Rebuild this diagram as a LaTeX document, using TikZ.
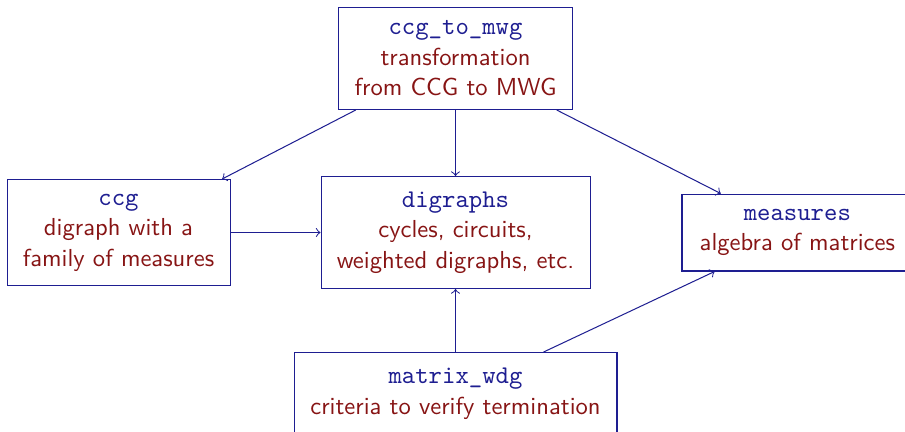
\documentclass[tikz,border=0pt]{standalone}
\usepackage{xcolor}
\usetikzlibrary{positioning}
\usetikzlibrary{arrows}
\definecolor{modblue}{RGB}{30,30,145}
\definecolor{descred}{RGB}{135,20,20}
\newcommand{\modtitle}[1]{{\fontsize{10}{12}\selectfont\ttfamily\color{modblue}#1}}

\begin{document}
\begin{tikzpicture}[->,>=to,auto,node distance=1cm,
                    module/.style={rectangle,draw=modblue,align=center,
                                   font=\sffamily\fontsize{9.65}{12}\selectfont,text=descred}]
      \useasboundingbox (-6.279,-2.736) rectangle (6.196,3.205);

      \node[module, minimum width=3.708cm, minimum height=1.544cm] (digraphs)
            {\modtitle{digraphs}\\cycles, circuits,\\weighted digraphs, etc.};
      \node[module, minimum width=3.225cm, minimum height=1.406cm] (ccgtomwg) [above=0.91cm of digraphs]
            {\modtitle{ccg\_to\_mwg}\\transformation\\from CCG to MWG};
      \node[module, minimum width=3.074cm, minimum height=1.461cm] (ccg) [left=1.24cm of digraphs]
            {\modtitle{ccg}\\digraph with a\\family of measures};
      \node[module, minimum width=3.18cm, minimum height=1.061cm] (measures) [right=1.254cm of digraphs]
            {\modtitle{measures}\\algebra of matrices};
      \node[module, minimum width=4.452cm, minimum height=1.13cm] (matrixwdg) [below=0.868cm of digraphs]
            {\modtitle{matrix\_wdg}\\criteria to verify termination};

      \path[draw=modblue]
	(ccgtomwg) edge (ccg)
	    edge (digraphs)
	    edge (measures)
	(ccg) edge (digraphs)
	(matrixwdg) edge (digraphs)
	    edge (measures);

    \end{tikzpicture}
\end{document}
